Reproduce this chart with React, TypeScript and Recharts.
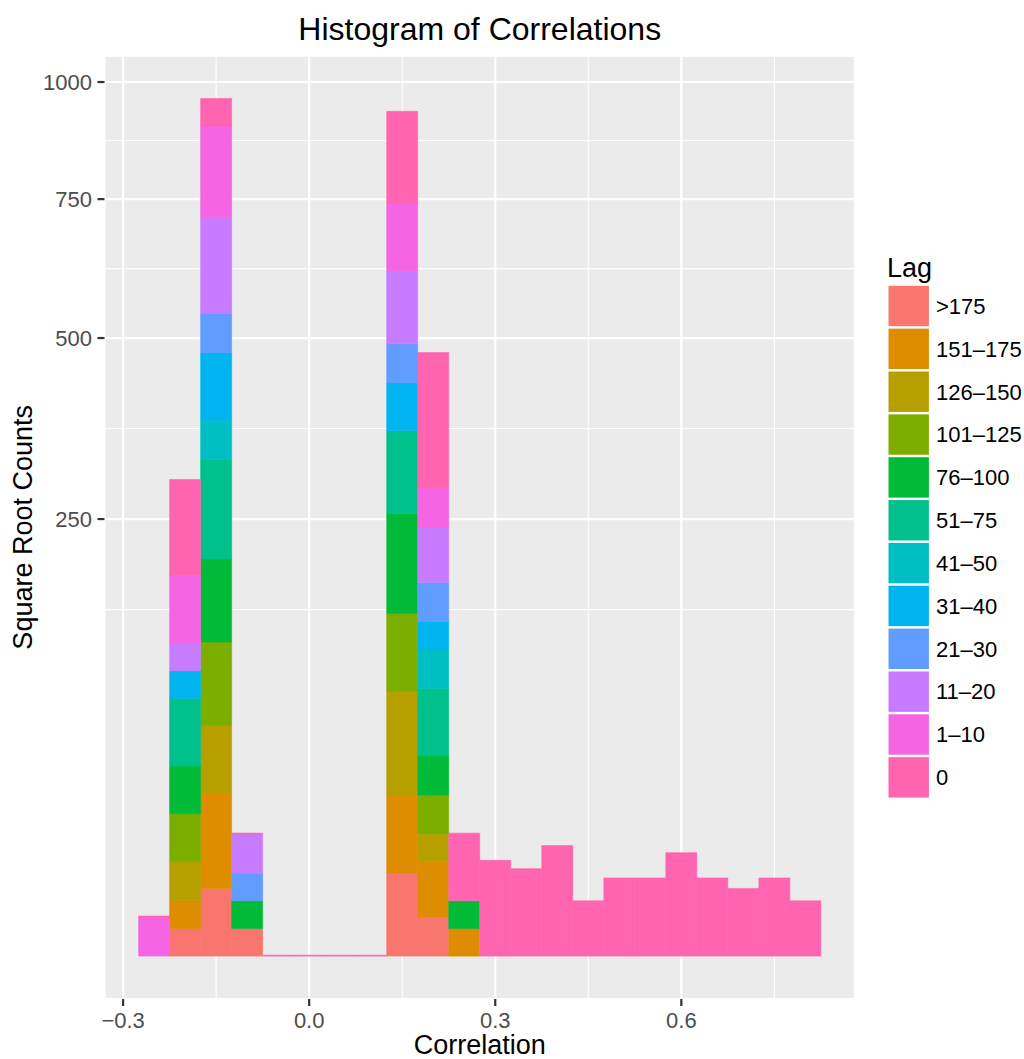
import React from 'react';
import { ComposedChart, Bar, XAxis, YAxis, CartesianGrid } from 'recharts';

// Bin centres (Correlation), bin width 0.05
const binCenters = [-0.25, -0.2, -0.15, -0.1, -0.05, 0, 0.05, 0.1, 0.15, 0.2, 0.25, 0.3, 0.35, 0.4, 0.45, 0.5, 0.55, 0.6, 0.65, 0.7, 0.75, 0.8];
const binWidth = 0.05;

// Lag groups (stack order bottom -> top) and colours
const lagLabels = ['>175', '151–175', '126–150', '101–125', '76–100', '51–75', '41–50', '31–40', '21–30', '11–20', '1–10', '0'];
const lagColors = ['#F8766D', '#DE8C00', '#B79F00', '#7CAE00', '#00BA38', '#00C08B', '#00BFC4', '#00B4F0', '#619CFF', '#C77CFF', '#F564E3', '#FF64B0'];

// Counts per bin for each lag group
const countsGt175 = [0, 1, 6, 1, 0, 0, 0, 0, 9, 2, 0, 0, 0, 0, 0, 0, 0, 0, 0, 0, 0, 0];
const counts151to175 = [0, 1, 12, 0, 0, 0, 0, 0, 8, 4, 1, 0, 0, 0, 0, 0, 0, 0, 0, 0, 0, 0];
const counts126to150 = [0, 2, 6, 0, 0, 0, 0, 0, 14, 1, 0, 0, 0, 0, 0, 0, 0, 0, 0, 0, 0, 0];
const counts101to125 = [0, 3, 9, 0, 0, 0, 0, 0, 8, 2, 0, 0, 0, 0, 0, 0, 0, 0, 0, 0, 0, 0];
const counts76to100 = [0, 3, 9, 1, 0, 0, 0, 0, 13, 2, 1, 0, 0, 0, 0, 0, 0, 0, 0, 0, 0, 0];
const counts51to75 = [0, 6, 13, 0, 0, 0, 0, 0, 9, 6, 0, 0, 0, 0, 0, 0, 0, 0, 0, 0, 0, 0];
const counts41to50 = [0, 0, 2, 0, 0, 0, 0, 0, 0, 2, 0, 0, 0, 0, 0, 0, 0, 0, 0, 0, 0, 0];
const counts31to40 = [0, 1, 6, 0, 0, 0, 0, 0, 3, 1, 0, 0, 0, 0, 0, 0, 0, 0, 0, 0, 0, 0];
const counts21to30 = [0, 0, 2, 1, 0, 0, 0, 0, 2, 2, 0, 0, 0, 0, 0, 0, 0, 0, 0, 0, 0, 0];
const counts11to20 = [0, 1, 12, 2, 0, 0, 0, 0, 7, 4, 0, 0, 0, 0, 0, 0, 0, 0, 0, 0, 0, 0];
const counts1to10 = [2, 6, 11, 0, 0, 0, 0, 0, 6, 2, 0, 0, 0, 0, 0, 0, 0, 0, 0, 0, 0, 0];
const counts0 = [0, 12, 1, 0, 0, 0, 0, 0, 11, 24, 6, 12, 10, 16, 4, 8, 8, 14, 8, 6, 8, 4];

const seriesCounts = [
  countsGt175, counts151to175, counts126to150, counts101to125, counts76to100, counts51to75,
  counts41to50, counts31to40, counts21to30, counts11to20, counts1to10, counts0,
];

// Axis breaks
const yBreakCounts = [250, 500, 750, 1000];
const xBreaks = [-0.3, 0, 0.3, 0.6];
const xMinorBreaks = [-0.15, 0.15, 0.45, 0.75];

// Build table (sqrt-transformed counts, stacked in transformed space like ggplot)
const data = binCenters.map((x, i) => {
  const row: Record<string, number> = { x };
  seriesCounts.forEach((s, j) => {
    row['g' + j] = Math.sqrt(s[i]);
  });
  return row;
});

const maxTotal = Math.max(...data.map((r) => seriesCounts.reduce((acc, _, j) => acc + r['g' + j], 0)));
const yDomain: [number, number] = [-0.05 * maxTotal, 1.05 * maxTotal];
const xLo = binCenters[0] - binWidth / 2;
const xHi = binCenters[binCenters.length - 1] + binWidth / 2;
const xPad = 0.05 * (xHi - xLo);
const xDomain: [number, number] = [xLo - xPad, xHi + xPad];

const yMajor = yBreakCounts.map(Math.sqrt);
// ggplot-style regular minor breaks in transformed space
const yMinor = (() => {
  const b = [...yMajor];
  const bd = b[1] - b[0];
  const ext = [b[0] - bd, ...b, b[b.length - 1] + bd];
  const out: number[] = [];
  for (let i = 0; i < ext.length - 1; i++) out.push((ext[i] + ext[i + 1]) / 2);
  return out.filter((v) => v > yDomain[0] && v < yDomain[1]);
})();

const FONT = '"Liberation Sans", Arial, Helvetica, sans-serif';

const fmtX = (v: number) => (v < 0 ? '\u2212' + Math.abs(v).toFixed(1) : v.toFixed(1));
const fmtY = (v: number) => String(Math.round(v * v));

const W = 1024;
const H = 1059;
const PLOT_LEFT = 104.5;
const PLOT_RIGHT = 855;
const PLOT_TOP = 55.6;
const PLOT_BOTTOM = 999;

// linear mapping matching the axes' linear scales over the plot offset
const mapX = (v: number, off: any) => off.left + ((v - xDomain[0]) / (xDomain[1] - xDomain[0])) * off.width;
const mapY = (v: number, off: any) => off.top + off.height - ((v - yDomain[0]) / (yDomain[1] - yDomain[0])) * off.height;

const KEY_TOP = 285.8;
const KEY_STEP = 42.85;
const KEY_SIZE = 40.4;

function LegendBlock() {
  return (
    <g>
      <text x={887} y={277} fontSize={27} fontFamily={FONT} fill="#000">Lag</text>
      {lagLabels.map((lab, i) => {
        const top = KEY_TOP + i * KEY_STEP;
        return (
          <g key={lab}>
            <rect x={888.5} y={top} width={KEY_SIZE} height={KEY_SIZE} fill={lagColors[i]} />
            <text x={936} y={top + KEY_SIZE / 2} dy="0.355em" fontSize={22} fontFamily={FONT} fill="#000">{lab}</text>
          </g>
        );
      })}
    </g>
  );
}

export default function App() {
  return (
    <div style={{ position: 'absolute', left: 0, top: 0, width: W, height: H, background: '#fff' }}>
      <ComposedChart
        width={W}
        height={H}
        data={data}
        margin={{ top: PLOT_TOP, right: W - PLOT_RIGHT, bottom: 0, left: 0 }}
        barCategoryGap={0}
        barGap={0}
      >
        <CartesianGrid
          fill="#EBEBEB"
          fillOpacity={1}
          stroke="#FFFFFF"
          strokeWidth={1.1}
          horizontalCoordinatesGenerator={(p: any) => {
            const sc = p && p.yAxis && p.yAxis.scale;
            if (typeof sc === 'function') return yMinor.map((v) => sc(v));
            return p && p.offset ? yMinor.map((v) => mapY(v, p.offset)) : [];
          }}
          verticalCoordinatesGenerator={(p: any) => {
            const sc = p && p.xAxis && p.xAxis.scale;
            if (typeof sc === 'function') return xMinorBreaks.map((v) => sc(v));
            return p && p.offset ? xMinorBreaks.map((v) => mapX(v, p.offset)) : [];
          }}
        />
        <CartesianGrid stroke="#FFFFFF" strokeWidth={2.2} />
        <XAxis
          dataKey="x"
          type="number"
          domain={xDomain}
          allowDataOverflow
          ticks={xBreaks}
          interval={0}
          tickFormatter={fmtX}
          height={H - PLOT_BOTTOM}
          axisLine={false}
          tickSize={7}
          tickMargin={6.4}
          tickLine={{ stroke: '#333333', strokeWidth: 2.2 }}
          tick={{ fill: '#4D4D4D', fontSize: 22, fontFamily: FONT }}
        />
        <YAxis
          type="number"
          domain={yDomain}
          allowDataOverflow
          ticks={yMajor}
          interval={0}
          tickFormatter={fmtY}
          width={PLOT_LEFT}
          axisLine={false}
          tickSize={7}
          tickMargin={5.5}
          tickLine={{ stroke: '#333333', strokeWidth: 2.2 }}
          tick={{ fill: '#4D4D4D', fontSize: 22, fontFamily: FONT }}
        />
        {lagLabels.map((lab, j) => (
          <Bar
            key={lab}
            name={lab}
            dataKey={'g' + j}
            stackId="lag"
            fill={lagColors[j]}
            stroke={lagColors[j]}
            strokeWidth={0.6}
            isAnimationActive={false}
            minPointSize={j === lagLabels.length - 1 ? 1 : 0}
          />
        ))}
      </ComposedChart>
      <svg width={W} height={H} style={{ position: 'absolute', left: 0, top: 0, pointerEvents: 'none' }}>
        <text x={(PLOT_LEFT + PLOT_RIGHT) / 2} y={40} textAnchor="middle" fontSize={32} fontFamily={FONT} fill="#000">
          Histogram of Correlations
        </text>
        <text x={(PLOT_LEFT + PLOT_RIGHT) / 2} y={1053.5} textAnchor="middle" fontSize={27} fontFamily={FONT} fill="#000">
          Correlation
        </text>
        <text
          transform={`translate(31.5, ${(PLOT_TOP + PLOT_BOTTOM) / 2}) rotate(-90)`}
          textAnchor="middle"
          fontSize={27}
          fontFamily={FONT}
          fill="#000"
        >
          Square Root Counts
        </text>
        <LegendBlock />
      </svg>
    </div>
  );
}
